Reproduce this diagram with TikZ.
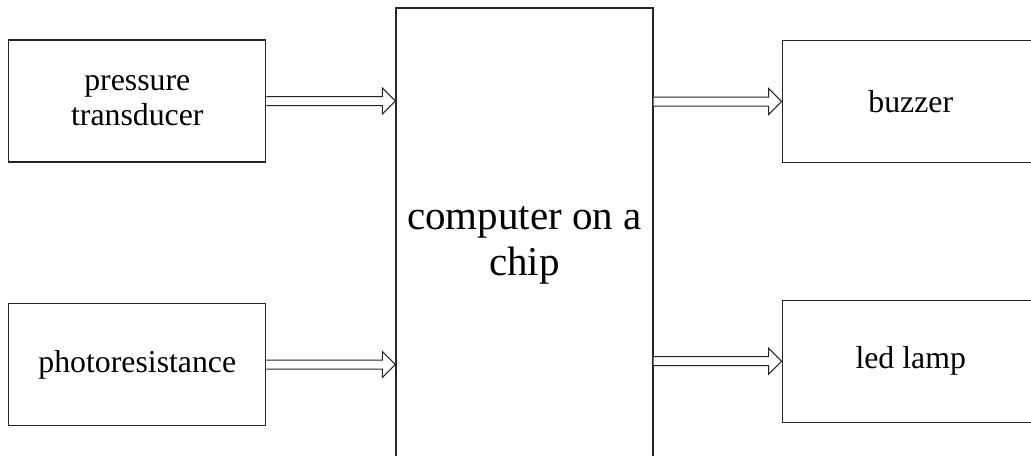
\documentclass[tikz,border=0pt]{standalone}
\usepackage{fontspec}
\setmainfont{Liberation Serif}
\usetikzlibrary{positioning,calc}

% hollow block arrow from a box edge to a box edge
\newcommand{\hollowarrow}[2]{%
  \draw[flow] ($(#1)+(0,2.25pt)$) -- ($(#2)+(-6.5pt,2.25pt)$)
    -- ($(#2)+(-6.5pt,6.5pt)$) -- (#2) -- ($(#2)+(-6.5pt,-6.5pt)$)
    -- ($(#2)+(-6.5pt,-2.25pt)$) -- ($(#1)+(0,-2.25pt)$);}

\begin{document}
\begin{tikzpicture}[
    block/.style={rectangle, draw=black!85, line width=0.6pt,
        minimum width=128.5pt, minimum height=61pt, align=center,
        inner sep=0pt, font=\fontsize{15.9}{17.5}\selectfont},
    chipbox/.style={block, minimum height=237pt,
        font=\fontsize{20.5}{23}\selectfont},
    flow/.style={draw=black!85, line width=0.5pt, fill=white}
]
    \useasboundingbox (0,0) rectangle (515.5pt,-227.5pt);

    \node[chipbox] (chip) at (262.25pt,-122.5pt) {computer on a\\chip};
    \node[block, left=64.5pt of chip, yshift=72pt] (press) {pressure\\transducer};
    \node[block, left=64.5pt of chip, yshift=-59.75pt] (photo) {photoresistance};
    \node[block, right=64pt of chip, yshift=71.75pt] (buzzer) {buzzer};
    \node[block, right=64pt of chip, yshift=-58.1pt] (led) {led lamp};

    \coordinate (pressin) at (press.east -| chip.west);
    \coordinate (photoin) at (photo.east -| chip.west);
    \coordinate (buzzout) at (chip.east |- buzzer.west);
    \coordinate (ledout) at (chip.east |- led.west);

    \hollowarrow{press.east}{pressin}
    \hollowarrow{photo.east}{photoin}
    \hollowarrow{buzzout}{buzzer.west}
    \hollowarrow{ledout}{led.west}
\end{tikzpicture}
\end{document}
